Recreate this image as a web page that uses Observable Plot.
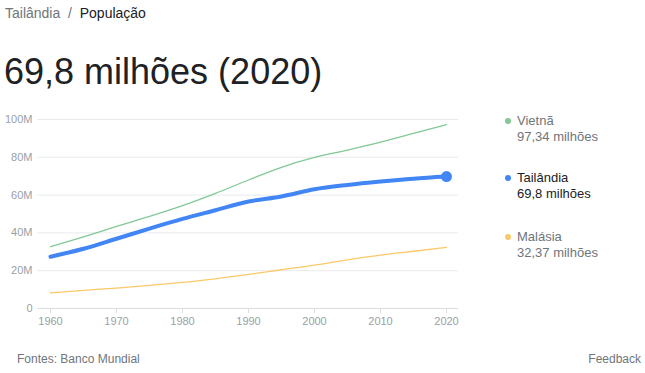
<!DOCTYPE html>
<html><head><meta charset="utf-8">
<script src="https://cdn.jsdelivr.net/npm/d3@7"></script>
<script src="https://cdn.jsdelivr.net/npm/@observablehq/plot@0.6"></script>
<style>
body{margin:0;background:#fff;font-family:Arial,"Liberation Sans",sans-serif;}
#wrap{position:relative;width:645px;height:373px;overflow:hidden;}
.crumb{position:absolute;left:5px;top:5px;font-size:14px;color:#202124;}
.crumb .g{color:#70757a;}
.big{position:absolute;left:4px;top:50px;font-size:36px;color:#202124;line-height:44px;}
#chart{position:absolute;left:0;top:100px;}
.leg{position:absolute;left:505px;font-size:13px;line-height:16px;color:#70757a;}
.leg .dot{position:absolute;left:0;top:5px;width:6px;height:6px;border-radius:50%;}
.leg div.t{padding-left:12px;}
.foot{position:absolute;top:352px;font-size:12px;color:#70757a;}
</style></head><body>
<div id="wrap">
<div class="crumb"><span class="g">Tailândia</span> <span class="g">&nbsp;/&nbsp;</span> População</div>
<div class="big">69,8 milhões (2020)</div>
<div id="chart"></div>
<div id="legend"></div>
<div class="foot" style="left:17px">Fontes: Banco Mundial</div>
<div class="foot" style="right:4px">Feedback</div>
</div>
<script>
const years = [1960,1965,1970,1975,1980,1985,1990,1995,2000,2005,2010,2015,2020];
const thailand = [27.4,31.6,36.9,42.3,47.4,52.0,56.6,59.3,63.1,65.4,67.2,68.7,69.8];
const vietnam  = [32.7,37.9,43.4,48.7,54.4,60.9,68.0,74.7,79.9,83.8,88.0,92.7,97.34];
const malaysia = [8.2,9.6,10.8,12.2,13.8,15.7,18.0,20.5,22.9,25.7,28.2,30.3,32.37];
const yTicks = [0,20,40,60,80,100];
const yTickLabels = ["0","20M","40M","60M","80M","100M"];
const xTicks = [1960,1970,1980,1990,2000,2010,2020];
const seriesNames = ["Vietnã","Tailândia","Malásia"];
const seriesLabels = ["97,34 milhões","69,8 milhões","32,37 milhões"];
const seriesColors = ["#81c995","#4285f4","#fbc96a"];

const rows = (arr, name) => years.map((y,i)=>({year:y, value:arr[i], name}));
const vn = rows(vietnam,"Vietnã"), th = rows(thailand,"Tailândia"), my = rows(malaysia,"Malásia");

const chart = Plot.plot({
  width: 470, height: 235,
  marginLeft: 37, marginRight: 12, marginTop: 19, marginBottom: 27,
  style: {fontFamily: "Arial, 'Liberation Sans', sans-serif", fontSize: "11px", color: "#9aa0a6", background: "transparent"},
  x: {domain: [1960,2020], insetLeft: 13, insetRight: 12},
  y: {domain: [0,100]},
  marks: [
    Plot.gridY(yTicks.slice(1), {stroke: "#e8eaed", strokeOpacity: 1, strokeWidth: 1}),
    Plot.ruleY([0], {stroke: "#dadce0", strokeWidth: 1}),
    Plot.axisY(yTicks, {tickSize: 0, tickPadding: 5, tickFormat: (d)=>yTickLabels[yTicks.indexOf(d)], fill: "#9aa0a6", fontSize: 11, label: null}),
    Plot.axisX(xTicks, {tickSize: 5, tickPadding: 4, stroke: "#dadce0", tickFormat: d=>String(d), fill: "#9aa0a6", fontSize: 11, label: null}),
    Plot.line(vn, {x: "year", y: "value", stroke: seriesColors[0], strokeWidth: 1.3, curve: "monotone-x"}),
    Plot.line(my, {x: "year", y: "value", stroke: seriesColors[2], strokeWidth: 1.3, curve: "monotone-x"}),
    Plot.line(th, {x: "year", y: "value", stroke: seriesColors[1], strokeWidth: 4, curve: "monotone-x"}),
    Plot.dot(th.slice(-1), {x: "year", y: "value", r: 5.5, fill: seriesColors[1]})
  ]
});
document.getElementById("chart").append(chart);

const legTops = [113, 170, 229];
const legend = document.getElementById("legend");
seriesNames.forEach((n,i)=>{
  const d = document.createElement("div");
  d.className = "leg";
  d.style.top = legTops[i] + "px";
  if (i===1) d.style.color = "#202124";
  d.innerHTML = `<span class="dot" style="background:${seriesColors[i]}"></span><div class="t">${n}</div><div class="t">${seriesLabels[i]}</div>`;
  legend.append(d);
});
</script>
</body></html>
